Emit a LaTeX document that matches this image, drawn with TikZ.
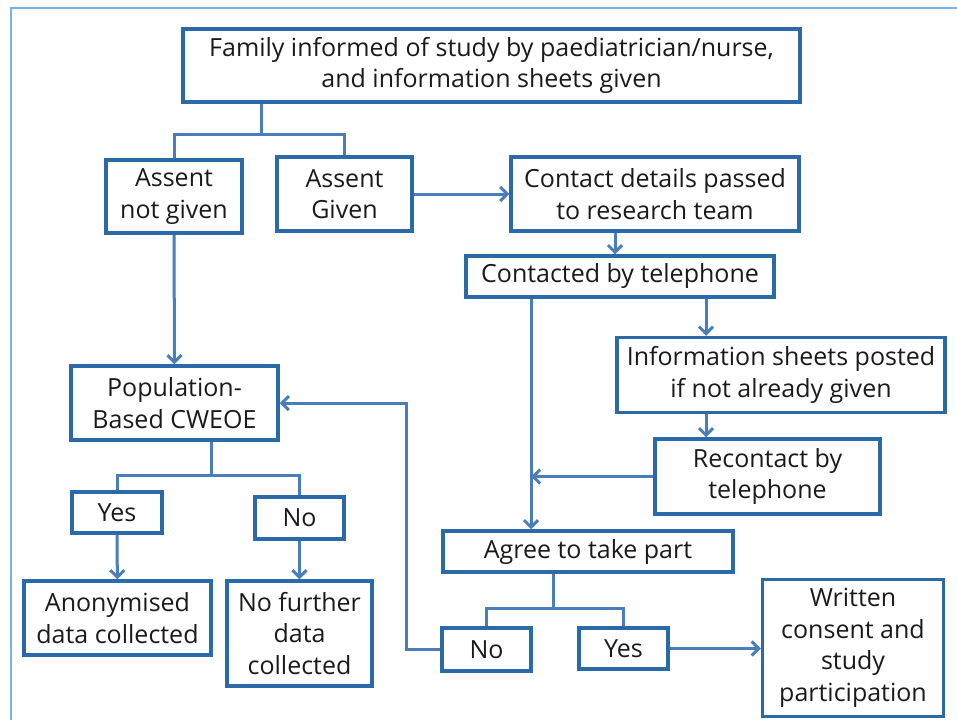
\documentclass[tikz,border=0pt]{standalone}
\usepackage{fontspec}
\setmainfont{Open Sans}
\usepackage{tikz}
\usetikzlibrary{arrows.meta}

\definecolor{boxblue}{HTML}{2A6AA8}
\definecolor{linkblue}{HTML}{4A7EBB}
\definecolor{frameblue}{HTML}{7AB0E8}
\definecolor{ink}{HTML}{1A1A1A}

\begin{document}
\begin{tikzpicture}[x=1pt,y=-1pt]
\useasboundingbox (0,0) rectangle (957,720);
\draw[frameblue,line width=2.5pt] (11,720) -- (11,8) -- (957,8);

\begin{scope}[every node/.style={rectangle,draw=boxblue,line width=3.5pt,inner sep=0pt,
              align=center,text=ink,font=\fontsize{25}{31.5}\selectfont}]
    \node[minimum width=617pt,minimum height=73pt] (fam) at (491.5,65.5)
        {Family informed of study by paediatrician/nurse,\\and information sheets given};
    \node[minimum width=136pt,minimum height=73pt] (nogiven) at (174,196.5) {Assent\\not given};
    \node[minimum width=135pt,minimum height=74pt] (given) at (344.5,194) {Assent\\Given};
    \node[minimum width=288pt,minimum height=74pt] (contact) at (655,194) {Contact details passed\\to research team};
    \node[minimum width=308pt,minimum height=41pt] (tel) at (620,276.5) {Contacted by telephone};
    \node[minimum width=328pt,minimum height=75pt] (sheets) at (781,375) {Information sheets posted\\if not already given};
    \node[minimum width=225pt,minimum height=75pt] (recontact) at (767.5,476.5) {Recontact by\\telephone};
    \node[minimum width=290pt,minimum height=41pt] (agree) at (588,551.5) {Agree to take part};
    \node[minimum width=89pt,minimum height=43pt] (no2) at (486.5,649.5) {No};
    \node[minimum width=89pt,minimum height=41pt] (yes2) at (623.5,648.5) {Yes};
    \node[minimum width=181pt,minimum height=137pt] (written) at (853,648) {Written\\consent and\\study\\participation};
    \node[minimum width=207pt,minimum height=74pt] (pop) at (174.5,403) {Population-\\Based CWEOE};
    \node[minimum width=90pt,minimum height=41pt] (yes1) at (117,512.5) {Yes};
    \node[minimum width=89pt,minimum height=42pt] (no1) at (299.5,518) {No};
    \node[minimum width=187pt,minimum height=74pt] (anon) at (117.5,618) {Anonymised\\data collected};
    \node[minimum width=145pt,minimum height=105pt] (nofurther) at (299.5,633.5) {No further\\data\\collected};
\end{scope}

% branch points and bends
\coordinate (fsplit) at (261,134);
\coordinate (psplit) at (211,475);
\coordinate (asplit) at (553,608);
\coordinate (telout) at ([xshift=-89pt]tel.south);
\coordinate (back) at ([xshift=-34pt]no2.west);

\begin{scope}[>={Straight Barb[length=7pt,width=14pt,line width=3pt]},
              every path/.style={draw=linkblue,line width=3pt}]
    \draw (fam.south -| fsplit) -- (fsplit);
    \draw (nogiven.north) |- (fsplit) -| (given.north);
    \path [->] (given) edge (contact);
    \draw [->] ([xshift=-40pt]contact.south) -- ([xshift=-40pt]contact.south |- tel.north);
    \draw [->] ([xshift=86pt]tel.south) -- ([xshift=86pt]tel.south |- sheets.north);
    \draw [->] ([xshift=-75pt]sheets.south) -- ([xshift=-75pt]sheets.south |- recontact.north);
    \draw [->] (telout) -- (telout |- agree.north);
    \draw [->] (recontact.west) -- (recontact.west -| telout);
    \draw (agree.south -| asplit) -- (asplit);
    \draw (no2.north) |- (asplit) -| (yes2.north);
    \draw [->] (yes2.east) -- (yes2.east -| written.west);
    \draw [->] (no2.west) -- (back) |- (pop.east);
    \path [->] (nogiven) edge (pop);
    \draw (pop.south -| psplit) -- (psplit);
    \draw (yes1.north) |- (psplit) -| (no1.north);
    \path [->] (yes1) edge (anon);
    \path [->] (no1) edge (nofurther);
\end{scope}
\end{tikzpicture}
\end{document}
